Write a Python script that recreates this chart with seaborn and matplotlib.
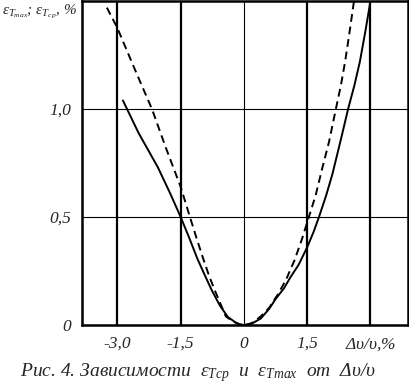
import matplotlib
matplotlib.use("Agg")
import matplotlib.pyplot as plt
import numpy as np
import pandas as pd
import seaborn as sns

# values
solid_x = [-2.87, -2.5, -2.04, -1.75, -1.5, -1.3, -1.11, -0.95, -0.76, -0.57, -0.38, -0.2, -0.1, 0.0,
           0.1, 0.2, 0.4, 0.6, 0.75, 0.95, 1.1, 1.3, 1.5, 1.65, 1.78, 1.95, 2.1, 2.3, 2.47, 2.62, 2.75, 2.88, 3.0]
solid_y = [1.04, 0.89, 0.73, 0.61, 0.50, 0.405, 0.31, 0.24, 0.16, 0.09, 0.037, 0.012, 0.003, 0.0,
           0.003, 0.008, 0.03, 0.075, 0.12, 0.17, 0.22, 0.28, 0.36, 0.43, 0.50, 0.60, 0.70, 0.86, 1.00, 1.11, 1.22, 1.36, 1.50]
dashed_x = [-3.25, -3.0, -2.6, -2.18, -1.85, -1.5, -1.28, -1.12, -0.97, -0.83, -0.69, -0.56, -0.43, -0.25, -0.1, 0.0,
            0.1, 0.2, 0.4, 0.6, 0.8, 1.0, 1.2, 1.38, 1.54, 1.7, 1.85, 2.02, 2.18, 2.3, 2.4, 2.5, 2.61]
dashed_y = [1.47, 1.375, 1.19, 1.00, 0.82, 0.64, 0.50, 0.40, 0.31, 0.23, 0.16, 0.10, 0.04, 0.015, 0.003, 0.0,
            0.003, 0.01, 0.04, 0.08, 0.14, 0.21, 0.30, 0.40, 0.50, 0.60, 0.72, 0.85, 1.00, 1.11, 1.22, 1.35, 1.50]

xticks = [-3.0, -1.5, 0.0, 1.5, 3.0]
xticklabels = ["-3,0", "-1,5", "0", "1,5", r"$\Delta\upsilon/\upsilon$,%"]
yticks = [0.0, 0.5, 1.0]
yticklabels = ["0", "0,5", "1,0"]

sns.set_style("white")
plt.rcParams["font.family"] = ["Liberation Serif", "DejaVu Serif"]
plt.rcParams["font.style"] = "italic"
plt.rcParams["mathtext.fontset"] = "custom"
plt.rcParams["mathtext.rm"] = "Liberation Serif:italic"
plt.rcParams["mathtext.it"] = "Liberation Serif:italic"

df = pd.concat([
    pd.DataFrame({"x": solid_x, "y": solid_y, "curve": "avg"}),
    pd.DataFrame({"x": dashed_x, "y": dashed_y, "curve": "max"}),
])

fig = plt.figure(figsize=(4.1, 3.88), dpi=100)
ax = fig.add_axes([0.2, 0.1624, 0.795, 0.8346])

sns.lineplot(data=df, x="x", y="y", style="curve", sort=False, estimator=None,
             color="black", linewidth=1.4, dashes={"avg": "", "max": (4, 2.5)},
             legend=False, ax=ax)

ax.set_xlim(-3.84, 3.89)
ax.set_ylim(0, 1.5)
for xv in xticks:
    ax.axvline(xv, color="black", lw=0.8 if xv == 0 else 1.6, zorder=0)
for yv in [0.5, 1.0]:
    ax.axhline(yv, color="black", lw=0.8, zorder=0)
for sp in ax.spines.values():
    sp.set_linewidth(1.8)
    sp.set_color("black")

ax.set_xticks(xticks)
ax.set_xticklabels(xticklabels, fontsize=12.5, style="italic")
ax.set_yticks(yticks)
ax.set_yticklabels(yticklabels, fontsize=12.5, style="italic")
ax.tick_params(length=0, pad=8)
ax.set_xlabel("")
ax.set_ylabel("")

fig.text(2 / 410, 1 - 12 / 388,
         r"$\varepsilon_{T_{max}}$; $\varepsilon_{T_{ср}}$, %",
         ha="left", va="center", fontsize=11)
fig.text(198 / 410, 1 - 373 / 388,
         r"Рис. 4. Зависимости  $\varepsilon_{Tср}$  и  $\varepsilon_{Tmax}$  от  $\Delta\upsilon/\upsilon$",
         ha="center", va="center", fontsize=14)

fig.savefig("out.png", dpi=100)
